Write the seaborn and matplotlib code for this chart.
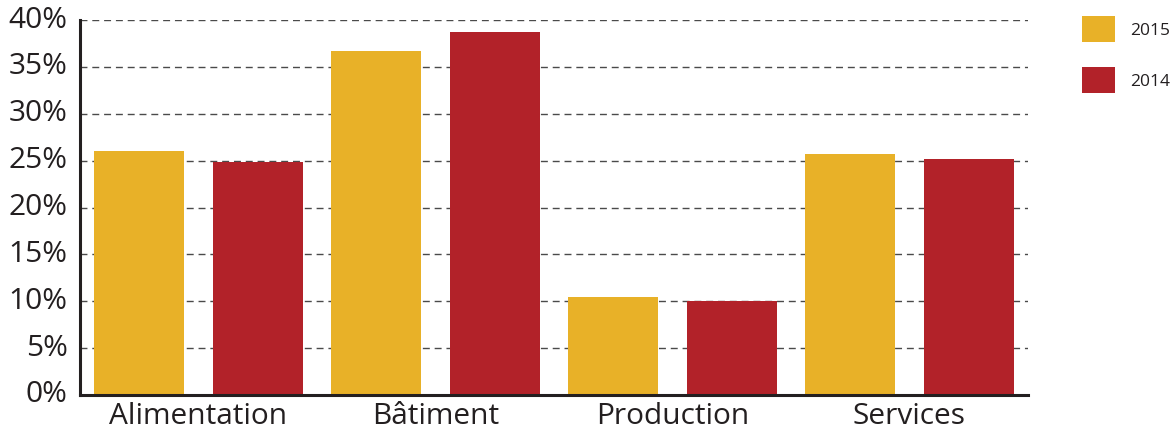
import matplotlib
matplotlib.use("Agg")
import matplotlib.pyplot as plt
from matplotlib.patches import Patch
from matplotlib.ticker import FixedLocator, PercentFormatter
import pandas as pd
import seaborn as sns

# Share of companies per sector, in percent
categories = ["Alimentation", "Bâtiment", "Production", "Services"]
values_2015 = [26.0, 36.7, 10.5, 25.7]
values_2014 = [24.9, 38.7, 10.0, 25.2]
years = ["2015", "2014"]
colors = ["#E8B128", "#B22229"]

df = pd.DataFrame({"Secteur": categories, "2015": values_2015, "2014": values_2014})
long = df.melt(id_vars="Secteur", var_name="Année", value_name="Part")

sns.set_style("white")
plt.rcParams["font.family"] = ["Open Sans", "DejaVu Sans"]
ink = "#231F20"

fig = plt.figure(figsize=(11.72, 4.29), dpi=100)
ax = fig.add_axes([80 / 1172, 34 / 429, 948 / 1172, 375 / 429])

sns.barplot(data=long, x="Secteur", y="Part", hue="Année", hue_order=years,
            order=categories, palette=colors, width=1.0, gap=0.24,
            saturation=1, ax=ax, legend=False, linewidth=0)

ax.set_xlim(-0.5, 3.5)
ax.set_ylim(0, 40)
ax.yaxis.set_major_locator(FixedLocator(range(0, 41, 5)))
ax.yaxis.set_major_formatter(PercentFormatter(decimals=0))
ax.yaxis.grid(True, linestyle=(0, (5, 3.5)), color="#4a4a4a", linewidth=1.0)
ax.xaxis.grid(False)
ax.set_axisbelow(True)

for side in ("top", "right"):
    ax.spines[side].set_visible(False)
for side in ("left", "bottom"):
    ax.spines[side].set_color(ink)
    ax.spines[side].set_linewidth(2.2)

ax.set_xlabel("")
ax.set_ylabel("")
ax.tick_params(axis="y", direction="in", length=5, width=1.2, color=ink,
               labelsize=21.5, labelcolor=ink, pad=9)
ax.tick_params(axis="x", which="major", length=0, labelsize=21.5,
               labelcolor=ink, pad=5)
ax.xaxis.set_minor_locator(FixedLocator([0.5, 1.5, 2.5, 3.5]))
ax.tick_params(axis="x", which="minor", direction="in", length=7,
               width=1.6, color=ink)
for lbl in ax.get_yticklabels():
    lbl.set_verticalalignment("center")

handles = [Patch(facecolor=c, edgecolor="none") for c in colors]
fig.legend(handles, years, loc="upper left",
           bbox_to_anchor=(1076 / 1172, 1 - 10 / 429), frameon=False,
           fontsize=12.5, handlelength=1.9, handleheight=1.95,
           labelspacing=1.42, handletextpad=0.85, labelcolor=ink,
           borderaxespad=0, borderpad=0.35)

fig.savefig("out.png", dpi=100)
